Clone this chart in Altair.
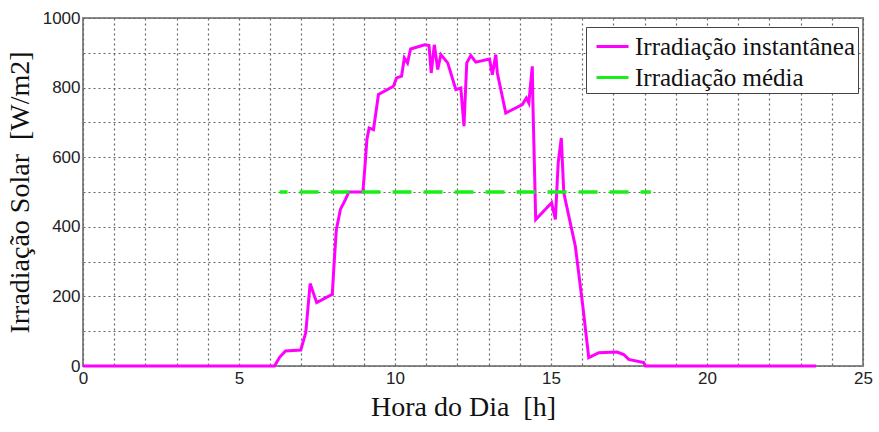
import altair as alt
import pandas as pd

# Instantaneous solar irradiance over one day
hours = [0.0, 6.14, 6.30, 6.49, 6.98, 7.14, 7.28, 7.49, 7.99, 8.05, 8.12, 8.25,
         8.41, 8.52, 8.97, 9.03, 9.10, 9.17, 9.31, 9.47, 9.95, 10.05, 10.21,
         10.30, 10.40, 10.50, 10.95, 11.09, 11.16, 11.26, 11.37, 11.47, 11.69,
         11.95, 12.11, 12.21, 12.30, 12.43, 12.59, 13.03, 13.12, 13.23, 13.28,
         13.55, 14.08, 14.21, 14.29, 14.40, 14.42, 14.51, 15.02, 15.14, 15.23,
         15.33, 15.41, 15.78, 16.02, 16.21, 16.53, 17.12, 17.33, 17.49, 17.97,
         18.03, 23.50]
irradiance = [0, 0, 25, 43, 46, 96, 237, 182, 206, 297, 392, 450,
              478, 500, 500, 565, 651, 684, 679, 780, 804, 828, 833,
              885, 871, 911, 923, 921, 842, 923, 852, 895, 871,
              794, 799, 689, 871, 892, 873, 882, 837, 895, 842,
              727, 751, 770, 756, 861, 756, 421, 469, 421, 584,
              655, 498, 344, 172, 24, 38, 40, 33, 19, 10,
              0, 0]

# Mean irradiance over the daylight period
mean_hours = [6.3, 18.2]
mean_value = [500, 500]

series_names = ["Irradiação instantânea", "Irradiação média"]
series_colors = ["#ff00ff", "#1aee1a"]

x_ticks = list(range(0, 26))
y_ticks = list(range(0, 1001, 100))

inst = pd.DataFrame({"hora": hours, "irr": irradiance, "serie": series_names[0]})
media = pd.DataFrame({"hora": mean_hours, "irr": mean_value, "serie": series_names[1]})

serif = "Liberation Serif"
sans = "Liberation Sans"

x_enc = alt.X(
    "hora:Q",
    scale=alt.Scale(domain=[0, 25], nice=False, zero=False),
    axis=alt.Axis(
        title="Hora do Dia\u00a0\u00a0[h]",
        values=x_ticks,
        format="d",
        labelExpr="datum.value % 5 == 0 ? datum.label : ''",
        labelFlush=False,
        labelPadding=4,
        titlePadding=7,
        titleX=380,
        titleFontSize=28,
    ),
)
y_enc = alt.Y(
    "irr:Q",
    scale=alt.Scale(domain=[0, 1000], nice=False),
    axis=alt.Axis(
        title="Irradiação Solar\u00a0\u00a0[W/m2]",
        values=y_ticks,
        format="d",
        labelExpr="datum.value % 200 == 0 ? datum.label : ''",
        labelPadding=3,
        titlePadding=8,
        titleFontSize=28,
    ),
)
color_enc = alt.Color(
    "serie:N",
    scale=alt.Scale(domain=series_names, range=series_colors),
    legend=alt.Legend(title=None, orient="none", legendX=503, legendY=9,
                      direction="vertical", labelFont=serif),
)

inst_line = alt.Chart(inst).mark_line(strokeWidth=3).encode(
    x=x_enc, y=y_enc, color=color_enc, order="hora:Q"
)
mean_line = alt.Chart(media).mark_line(
    strokeWidth=3.5, strokeDash=[19, 12], strokeDashOffset=11
).encode(x=x_enc, y=y_enc, color=color_enc)

chart = (
    alt.layer(inst_line, mean_line)
    .properties(
        width=780,
        height=348,
        autosize=alt.AutoSizeParams(type="none"),
        padding={"left": 83, "top": 18, "right": 16, "bottom": 66},
        background="#ffffff",
    )
    .configure(font=serif)
    .configure_view(stroke="#8a8a8a", strokeWidth=2)
    .configure_axis(
        grid=True,
        gridColor="#666666",
        gridDash=[2, 3],
        gridWidth=1.2,
        domain=False,
        ticks=False,
        labelFont=sans,
        labelFontSize=17,
        labelColor="#222222",
        titleFont=serif,
        titleFontWeight="normal",
        titleColor="#111111",
    )
    .configure_legend(
        symbolType="stroke",
        symbolSize=1024,
        symbolStrokeWidth=3,
        symbolOffset=7,
        labelFont=serif,
        labelFontSize=25,
        labelColor="#111111",
        labelLimit=0,
        labelOffset=5,
        rowPadding=0,
        padding=2,
        strokeColor="#444444",
        fillColor="#ffffff",
    )
)

chart.save("out.html", embed_options={"renderer": "svg", "actions": False})
